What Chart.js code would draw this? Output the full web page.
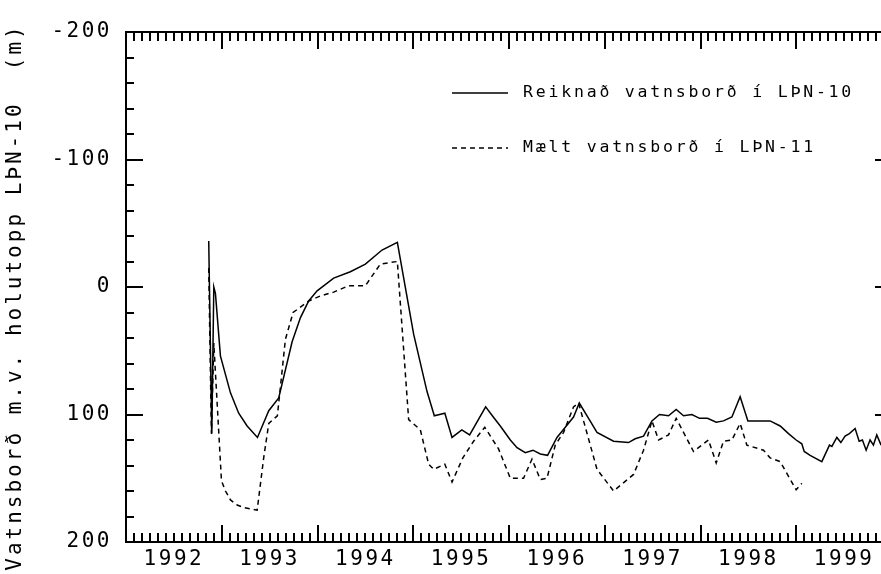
<!DOCTYPE html>
<html>
<head>
<meta charset="utf-8">
<title>Vatnsborð í LÞN-10 og LÞN-11</title>
<script src="https://cdn.jsdelivr.net/npm/chart.js@4.4.1/dist/chart.umd.min.js"></script>
<style>
    html, body { margin: 0; padding: 0; background: #fff; overflow: hidden; }
    #wrap { width: 881px; height: 574px; overflow: hidden; }
    canvas { display: block; }
</style>
</head>
<body>
<div id="wrap"><canvas id="vatnsbord" width="896" height="574"></canvas></div>
<script>
// Reiknað vatnsborð í LÞN-10 (ár, metrar undir holutoppi)
const reiknadAr = [
    1992.864, 1992.896, 1992.917, 1992.934, 1992.986, 1993.091, 1993.177, 1993.265,
    1993.373, 1993.491, 1993.595, 1993.735, 1993.822, 1993.908, 1993.996, 1994.169,
    1994.343, 1994.500, 1994.674, 1994.834, 1995.004, 1995.144, 1995.220, 1995.330,
    1995.405, 1995.507, 1995.589, 1995.756, 1995.826, 1995.909, 1996.014, 1996.084,
    1996.170, 1996.251, 1996.327, 1996.403, 1996.501, 1996.588, 1996.674, 1996.734,
    1996.831, 1996.919, 1997.092, 1997.248, 1997.318, 1997.405, 1997.493, 1997.572,
    1997.666, 1997.746, 1997.823, 1997.910, 1997.990, 1998.073, 1998.164, 1998.240,
    1998.328, 1998.414, 1998.495, 1998.727, 1998.832, 1998.919, 1998.999, 1999.058,
    1999.083, 1999.145, 1999.267, 1999.347, 1999.372, 1999.424, 1999.466, 1999.510,
    1999.555, 1999.615, 1999.657, 1999.691, 1999.730, 1999.771, 1999.806, 1999.841,
    1999.886,
];
const reiknadM = [
    -36, 115, 0, 5, 54, 83, 99, 109,
    118, 97, 87, 43, 24, 11, 3, -7,
    -12, -18, -29, -35, 37, 82, 101, 99,
    118, 112, 116, 94, 101, 109, 120, 126,
    130, 128, 131, 132, 118, 110, 102, 91,
    103, 114, 121, 122, 119, 117, 105, 100,
    101, 96, 101, 100, 103, 103, 106, 105,
    102, 86, 105, 105, 109, 115, 120, 123,
    129, 132, 137, 124, 125, 118, 122, 117,
    115, 111, 121, 120, 128, 120, 124, 116,
    124,
];

// Mælt vatnsborð í LÞN-11
const maeltAr = [
    1992.864, 1992.892, 1992.917, 1992.997, 1993.039, 1993.091, 1993.161, 1993.230,
    1993.300, 1993.370, 1993.438, 1993.491, 1993.581, 1993.665, 1993.745, 1993.908,
    1994.030, 1994.169, 1994.326, 1994.500, 1994.657, 1994.834, 1994.952, 1995.074,
    1995.161, 1995.213, 1995.330, 1995.405, 1995.518, 1995.630, 1995.747, 1995.891,
    1996.014, 1996.152, 1996.240, 1996.327, 1996.397, 1996.483, 1996.570, 1996.674,
    1996.727, 1996.919, 1997.092, 1997.301, 1997.405, 1997.493, 1997.562, 1997.666,
    1997.746, 1997.927, 1998.083, 1998.164, 1998.240, 1998.328, 1998.414, 1998.484,
    1998.658, 1998.727, 1998.832, 1998.999, 1999.058,
];
const maeltM = [
    -15, 115, 44, 152, 160, 167, 171, 173,
    174, 175, 134, 107, 101, 41, 20, 11,
    7, 4, -1, -1, -18, -20, 104, 112,
    139, 143, 139, 153, 134, 121, 110, 127,
    150, 150, 135, 151, 150, 124, 114, 94,
    91, 143, 160, 147, 128, 105, 120, 116,
    103, 129, 120, 138, 121, 120, 107, 124,
    128, 134, 137, 159, 154,
];

// Ásar
const arTicks = [1992, 1993, 1994, 1995, 1996, 1997, 1998, 1999];
const dypiTicks = [-200, -100, 0, 100, 200];
const yTitill = "Vatnsborð m.v. holutopp LÞN-10  (m)";
const radir = ["Reiknað vatnsborð í LÞN-10", "Mælt vatnsborð í LÞN-11"];

const xMin = 1992;
const xMax = 2000;
const yMin = -200;
const yMax = 200;

const leturgerd = '"DejaVu Sans Mono", "Liberation Mono", monospace';

const punktar = (ar, gildi) => ar.map((a, i) => ({ x: a, y: gildi[i] }));

// Rammi, innvísandi strik, y-ás titill og skýringar
const rammi = {
    id: "rammi",
    beforeDraw(chart) {
        chart.ctx.letterSpacing = "2.5px";
    },
    afterDraw(chart) {
        const { ctx, chartArea: a, scales } = chart;
        const x = scales.x;
        const y = scales.y;
        ctx.save();
        ctx.letterSpacing = "0px";
        ctx.strokeStyle = "#000";
        ctx.lineWidth = 2;
        ctx.setLineDash([]);
        ctx.strokeRect(a.left, a.top, a.right - a.left, a.bottom - a.top);

        ctx.beginPath();
        // mánaðarstrik, lengri við áramót
        const manudir = (xMax - xMin) * 12;
        for (let m = 0; m <= manudir; m++) {
            const px = Math.round(x.getPixelForValue(xMin + m / 12));
            const len = m % 12 === 0 ? 17 : 9;
            ctx.moveTo(px, a.bottom);
            ctx.lineTo(px, a.bottom - len);
            ctx.moveTo(px, a.top);
            ctx.lineTo(px, a.top + len);
        }
        for (let v = yMin; v <= yMax; v += 20) {
            const py = Math.round(y.getPixelForValue(v));
            const len = v % 100 === 0 ? 17 : 8;
            ctx.moveTo(a.left, py);
            ctx.lineTo(a.left + len, py);
            ctx.moveTo(a.right, py);
            ctx.lineTo(a.right - len, py);
        }
        ctx.stroke();

        // y-ás titill
        ctx.fillStyle = "#000";
        ctx.font = "21px " + leturgerd;
        ctx.letterSpacing = "3px";
        ctx.textAlign = "center";
        ctx.textBaseline = "middle";
        ctx.save();
        ctx.translate(16, 297);
        ctx.rotate(-Math.PI / 2);
        ctx.fillText(yTitill, 0, 0);
        ctx.restore();

        // skýringar
        ctx.font = "16.5px " + leturgerd;
        ctx.letterSpacing = "2.8px";
        ctx.textAlign = "left";
        chart.data.datasets.forEach((ds, i) => {
            const ly = 93 + i * 55;
            ctx.lineWidth = 1.5;
            ctx.setLineDash(ds.borderDash || []);
            ctx.beginPath();
            ctx.moveTo(452, ly);
            ctx.lineTo(508, ly);
            ctx.stroke();
            ctx.setLineDash([]);
            ctx.fillText(ds.label, 523, ly);
        });
        ctx.restore();
    },
};

const ctx = document.getElementById("vatnsbord");

new Chart(ctx, {
    type: "line",
    data: {
        datasets: [
            {
                label: radir[0],
                data: punktar(reiknadAr, reiknadM),
                borderColor: "#000",
                borderWidth: 1.5,
                pointRadius: 0,
                tension: 0,
            },
            {
                label: radir[1],
                data: punktar(maeltAr, maeltM),
                borderColor: "#000",
                borderWidth: 1.5,
                borderDash: [5, 4],
                pointRadius: 0,
                tension: 0,
            },
        ],
    },
    options: {
        responsive: false,
        animation: false,
        layout: {
            padding: { top: 32, right: 4, left: 0, bottom: 0 },
        },
        scales: {
            x: {
                type: "linear",
                min: xMin,
                max: xMax,
                grid: { display: false, drawTicks: false },
                border: { display: false },
                afterBuildTicks: (scale) => {
                    // ártöl miðjuð á hvert ár
                    scale.ticks = arTicks.map((a) => ({ value: a + 0.5 }));
                },
                afterFit: (scale) => {
                    scale.height = 32;
                },
                ticks: {
                    autoSkip: false,
                    maxRotation: 0,
                    padding: 5,
                    color: "#000",
                    font: { family: leturgerd, size: 21 },
                    callback: (value) => String(Math.floor(value)),
                },
            },
            y: {
                type: "linear",
                reverse: true,
                min: yMin,
                max: yMax,
                grid: { display: false, drawTicks: false },
                border: { display: false },
                afterBuildTicks: (scale) => {
                    scale.ticks = dypiTicks.map((v) => ({ value: v }));
                },
                afterFit: (scale) => {
                    scale.width = 126;
                },
                ticks: {
                    padding: 14,
                    color: "#000",
                    font: { family: leturgerd, size: 21 },
                    callback: (value) => String(value),
                },
            },
        },
        plugins: {
            legend: { display: false },
            tooltip: { enabled: false },
        },
    },
    plugins: [rammi],
});
</script>
</body>
</html>
